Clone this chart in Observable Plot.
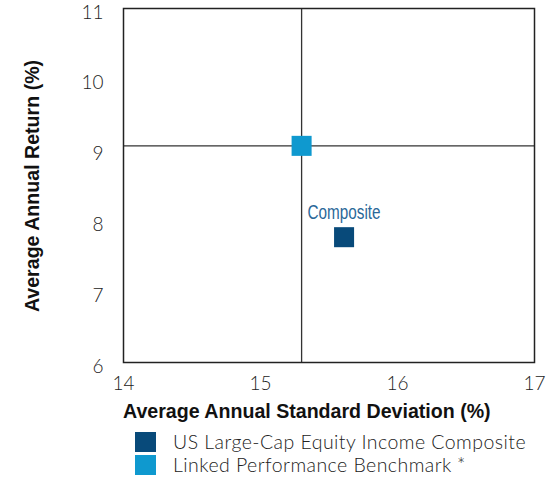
<!DOCTYPE html>
<html>
<head>
<meta charset="utf-8">
<script src="https://cdn.jsdelivr.net/npm/d3@7"></script>
<script src="https://cdn.jsdelivr.net/npm/@observablehq/plot@0.6"></script>
<style>
  body { margin: 0; background: #fff; }
  #chart { position: relative; width: 547px; }
  .legend { margin-left: 135px; margin-top: 5px; font-family: Lato, Roboto, "Liberation Sans", sans-serif; font-weight: 300; font-size: 19.5px; letter-spacing: 0.45px; color: #222; }
  .legend div { display: flex; align-items: center; height: 23px; }
  .legend span.sw { display: inline-block; width: 21px; height: 20px; margin-right: 17px; }
</style>
</head>
<body>
<div id="chart"></div>
<script>
const names = ["US Large-Cap Equity Income Composite", "Linked Performance Benchmark*"];
const legendLabels = ["US Large-Cap Equity Income Composite", "Linked Performance Benchmark\u202F*"];
const stdDev = [15.61, 15.30];
const annReturn = [7.77, 9.06];
const colors = ["#084a7a", "#0f99cf"];
const xTicks = [14, 15, 16, 17];
const yTicks = [6, 7, 8, 9, 10, 11];
const pointLabel = "Composite";
const xTitle = "Average Annual Standard Deviation (%)";
const yTitle = "Average Annual Return (%)";

const data = names.map((n, i) => ({name: n, x: stdDev[i], y: annReturn[i], color: colors[i]}));
const bench = data[1];
const comp = data[0];
const tickFont = "Lato, Roboto, 'Liberation Sans', sans-serif";

const plot = Plot.plot({
  width: 547,
  height: 425,
  marginLeft: 123,
  marginRight: 13,
  marginTop: 8,
  marginBottom: 63,
  style: {fontFamily: tickFont, color: "#222", background: "#fff"},
  x: {domain: [14, 17], label: null},
  y: {domain: [6, 11], label: null},
  marks: [
    Plot.axisX({ticks: xTicks, tickSize: 0, tickPadding: 14, tickFormat: "d", fontSize: 19, fontWeight: 300, label: null}),
    Plot.axisY({ticks: yTicks, tickSize: 0, tickPadding: 20, tickFormat: "d", fontSize: 19, fontWeight: 300, dy: 4, label: null}),
    Plot.ruleX([bench], {x: "x", stroke: "#333", strokeWidth: 1.3}),
    Plot.ruleY([bench], {y: "y", stroke: "#333", strokeWidth: 1.3}),
    Plot.frame({stroke: "#222", strokeWidth: 1.5}),
    Plot.dot(data, {x: "x", y: "y", symbol: "square", r: 11.3, fill: "color", stroke: "none"}),
    Plot.text([comp], {x: "x", y: "y", text: () => pointLabel, dy: -25, fill: "#2a6899", fontSize: 20.5, fontFamily: "'Liberation Sans', sans-serif", className: "ptlabel"})
  ]
});

const svg = d3.select(plot);
svg.selectAll(".ptlabel text").attr("textLength", 73).attr("lengthAdjust", "spacingAndGlyphs");
svg.append("text")
  .attr("x", 123).attr("y", 418)
  .attr("text-anchor", "start")
  .attr("font-family", "'Liberation Sans', Arial, sans-serif")
  .attr("font-weight", "bold").attr("font-size", 19.6).attr("fill", "#111")
  .text(xTitle);
svg.append("text")
  .attr("transform", "translate(39,186) rotate(-90)")
  .attr("text-anchor", "middle")
  .attr("font-family", "'Liberation Sans', Arial, sans-serif")
  .attr("font-weight", "bold").attr("font-size", 19.6).attr("fill", "#111")
  .text(yTitle);

const root = document.getElementById("chart");
root.appendChild(plot);
const leg = document.createElement("div");
leg.className = "legend";
names.forEach((n, i) => {
  const row = document.createElement("div");
  const sw = document.createElement("span");
  sw.className = "sw"; sw.style.background = colors[i];
  row.appendChild(sw);
  row.appendChild(document.createTextNode(legendLabels[i]));
  leg.appendChild(row);
});
root.appendChild(leg);
</script>
</body>
</html>
